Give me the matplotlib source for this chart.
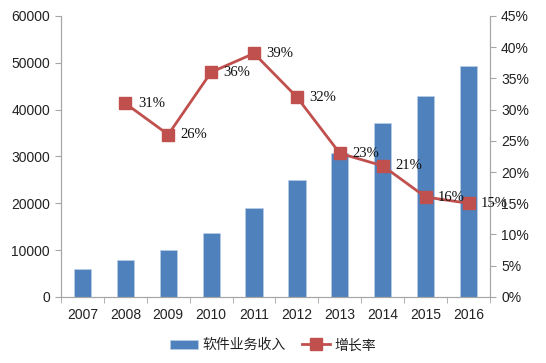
import numpy as np
import matplotlib.pyplot as plt

plt.rcParams['font.family'] = ['Liberation Sans', 'Noto Sans CJK SC', 'DejaVu Sans']

# data
years = ['2007', '2008', '2009', '2010', '2011', '2012', '2013', '2014', '2015', '2016']
revenue = [5900, 7900, 10000, 13600, 18900, 24900, 30700, 37100, 42900, 49400]
growth_years = years[1:]
growth = [31, 26, 36, 39, 32, 23, 21, 16, 15]

bar_color = '#4F81BD'
line_color = '#C0504D'
axis_color = '#A6A6A6'

fig = plt.figure(figsize=(5.46, 3.63), dpi=100)
ax1 = fig.add_axes([0.1117, 0.182, 0.7857, 0.774])
ax2 = ax1.twinx()

x = np.arange(len(years))
ax1.bar(x, revenue, width=0.4, color=bar_color, edgecolor='#B9CDE5', linewidth=0.5,
        label='软件业务收入', zorder=2)
ax1.set_ylim(0, 60000)
ax1.set_yticks(np.arange(0, 60001, 10000))
ax1.set_xlim(-0.5, len(years) - 0.5)
ax1.set_xticks(x)
ax1.set_xticklabels(years)
ax1.set_xticks(np.arange(-0.5, len(years)), minor=True)
ax1.tick_params(axis='x', which='major', length=0, pad=8, labelsize=10, colors='#222222')
ax1.tick_params(axis='x', which='minor', length=4, color=axis_color, direction='out')
ax1.tick_params(axis='y', length=4, color=axis_color, labelsize=10, colors='#222222', pad=4)

gx = np.arange(1, len(years))
ax2.plot(gx, growth, color=line_color, linewidth=2, marker='s', markersize=8,
         markerfacecolor=line_color, markeredgecolor=line_color, label='增长率', zorder=3)
for xi, g in zip(gx, growth):
    ax2.annotate(f'{g}%', (xi, g), xytext=(9, 0), textcoords='offset points',
                 va='center', ha='left', fontsize=10.5, family='Liberation Serif',
                 color='#111111')
ax2.set_ylim(0, 45)
ax2.set_yticks(np.arange(0, 46, 5))
ax2.set_yticklabels([f'{v}%' for v in range(0, 46, 5)])
ax2.tick_params(axis='y', length=4, color=axis_color, labelsize=10, colors='#222222', pad=4)

for a in (ax1, ax2):
    a.spines['top'].set_visible(False)
    for s in ('left', 'right', 'bottom'):
        a.spines[s].set_color(axis_color)
        a.spines[s].set_linewidth(0.8)

h1, l1 = ax1.get_legend_handles_labels()
h2, l2 = ax2.get_legend_handles_labels()
fig.legend(h1 + h2, l1 + l2, loc='lower center', bbox_to_anchor=(0.5, -0.005), ncol=2,
           frameon=False, fontsize=10, handlelength=2.0, handletextpad=0.3,
           columnspacing=1.2, labelcolor='#222222')

fig.savefig('out.png', dpi=100)
plt.close()
